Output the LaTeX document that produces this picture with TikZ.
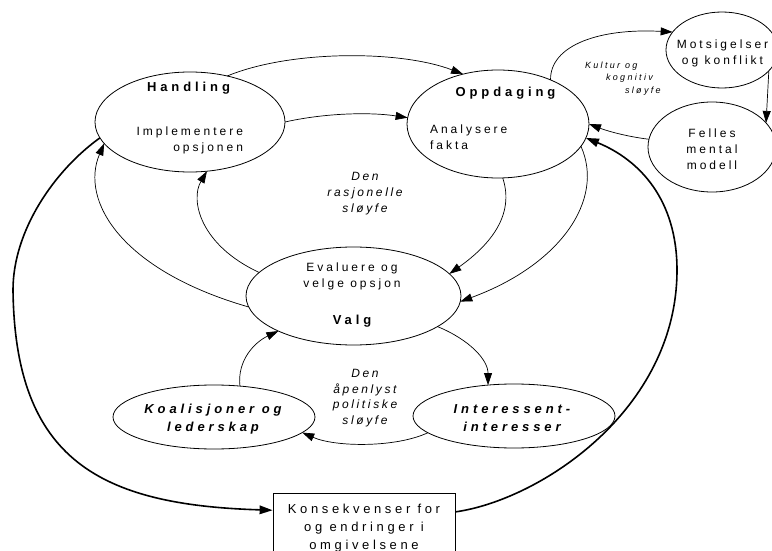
\documentclass[tikz,border=0pt]{standalone}
\usepackage{fontspec}
\setmainfont{Liberation Sans}
\newfontfamily\fReg[LetterSpace=25]{Liberation Sans}
\newfontfamily\fBold[LetterSpace=30]{Liberation Sans}
\newfontfamily\fItal[LetterSpace=22]{Liberation Sans}
\newfontfamily\fSmall[LetterSpace=26]{Liberation Sans}
\newfontfamily\fBox[LetterSpace=28]{Liberation Sans}
\usetikzlibrary{shapes.geometric,arrows.meta}
\begin{document}
\begin{tikzpicture}[x=1pt,y=-1pt,
  ell/.style={ellipse, draw, line width=0.8pt, inner sep=0pt, outer sep=0pt},
  lbl/.style={inner sep=0pt, outer sep=0pt},
  reg/.style={lbl, align=center, font=\fReg\fontsize{12}{16}\selectfont},
  ttl/.style={lbl, align=center, font=\fBold\bfseries\fontsize{13}{18}\selectfont},
  bit/.style={lbl, align=center, font=\fBold\bfseries\itshape\fontsize{13}{18}\selectfont},
  ital/.style={lbl, align=center, font=\fItal\itshape\fontsize{12}{15.7}\selectfont},
  smal/.style={lbl, align=left, font=\fSmall\itshape\fontsize{9}{12.5}\selectfont},
  arr/.style={-{Triangle[length=12pt,width=8pt]}, line width=0.7pt},
  thk/.style={-{Triangle[length=13pt,width=8.5pt]}, line width=1.6pt},
  ]
\useasboundingbox (0,0) rectangle (772,551);
% ellipses
\node[ell, minimum width=190pt, minimum height=100pt] (hand) at (190,122) {};
\node[ell, minimum width=182pt, minimum height=108pt] (opp) at (498,124) {};
\node[ell, minimum width=112pt, minimum height=76pt] (mot) at (722,50) {};
\node[ell, minimum width=128pt, minimum height=90pt] (fel) at (712,147) {};
\node[ell, minimum width=215pt, minimum height=98pt] (valg) at (353.5,296) {};
\node[ell, minimum width=202pt, minimum height=64pt] (koal) at (214,417) {};
\node[ell, minimum width=202pt, minimum height=64pt] (inter) at (514,416) {};
\node[draw, line width=0.8pt, minimum width=182pt, minimum height=70pt, inner sep=0pt,
      align=center, font=\fBox\fontsize{13}{18}\selectfont] (box) at (364,528)
      {Konsekvenser for\\og endringer i\\omgivelsene};
% texts
\node[ttl] (handT) at (188.5,88) {Handling};
\node[reg, align=right, anchor=east] (handS) at (243,140.5) {Implementere\\opsjonen};
\node[ttl] (oppT) at (505.5,93) {Oppdaging};
\node[reg, align=left, anchor=west] (oppS) at (430,137) {Analysere\\fakta};
\node[reg] (motT) at (722.5,53.5) {Motsigelser\\og konflikt};
\node[reg] (felT) at (712,149.5) {Felles\\mental\\modell};
\node[reg] (valgS) at (352,276) {Evaluere og\\velge opsjon};
\node[ttl] (valgT) at (352,321.5) {Valg};
\node[bit] (koalT) at (213,419) {Koalisjoner og\\lederskap};
\node[bit] (interT) at (512,418) {Interessent-\\interesser};
\node[ital] (rasT) at (365,193.5) {Den\\rasjonelle\\sl\o yfe};
\node[ital] (polT) at (365,398) {Den\\\aa penlyst\\politiske\\sl\o yfe};
\node[smal, anchor=west] (kulT) at (585,78.5) {Kultur og\\\hspace*{21pt}kognitiv\\\hspace*{40pt}sl\o yfe};
% connectors
\coordinate (lw) at (13,290);
\coordinate (rw) at (677,270);
\draw[arr] (hand.51) .. controls (290,50) and (400,50) .. (opp.125);
\draw[arr] (hand.0) .. controls (325,113) and (370,112) .. (opp.176);
\draw[arr] (opp.-85) .. controls (515,215) and (490,245) .. (valg.13.7);
\draw[arr] (opp.-15) .. controls (605,200) and (560,265) .. (valg.-3.8);
\draw[arr] (valg.166.2) .. controls (200,245) and (190,200) .. (hand.-71.6);
\draw[arr] (valg.186.4) .. controls (120,270) and (80,200) .. (hand.194.8);
\draw[arr] (valg.-20.1) .. controls (470,340) and (488,360) .. (inter.130);
\draw[arr] (inter.191.2) .. controls (395,448) and (335,447) .. (koal.-10.9);
\draw[arr] (koal.50.9) .. controls (237,360) and (255,342) .. (valg.205.8);
\draw[thk] (hand.190.7) .. controls (55,170) and (13,230) .. (lw) .. controls (15,460) and (100,505) .. (box.169.1);
\draw[thk] (box.10.3) .. controls (540,500) and (677,410) .. (rw) .. controls (677,200) and (640,160) .. (opp.-9);
\draw[arr] (opp.40) .. controls (550,45) and (600,28) .. (mot.160.2);
\draw[arr] (fel.173.6) .. controls (630,137) and (610,132) .. (opp.-0.6);
\draw[arr] (mot.-24) -- (fel.24.8);
\end{tikzpicture}
\end{document}
